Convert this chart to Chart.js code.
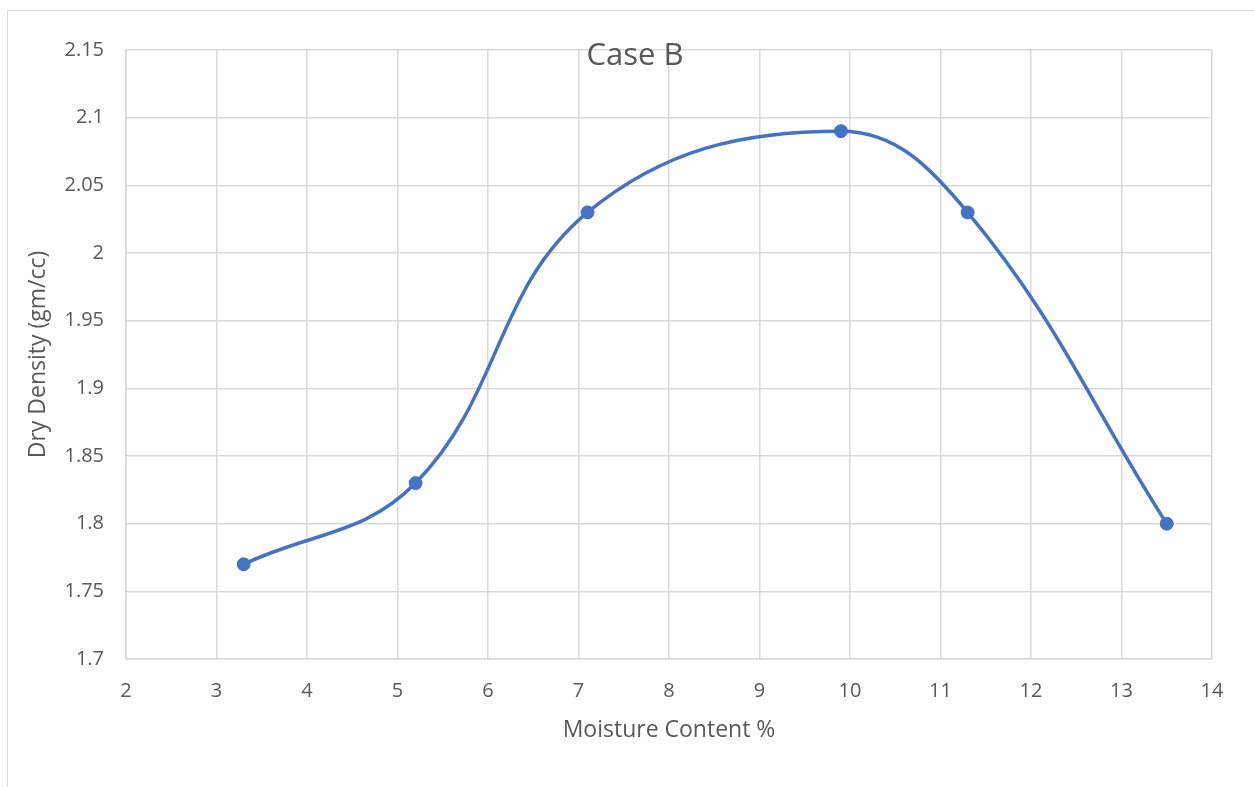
<!DOCTYPE html>
<html>
<head>
<meta charset="utf-8">
<script src="https://cdn.jsdelivr.net/npm/chart.js@4/dist/chart.umd.min.js"></script>
<style>
  html, body { margin: 0; padding: 0; background: #ffffff; overflow: hidden; }
  #frame { position: absolute; left: 7px; top: 10px; width: 1400px; height: 900px; border: 1px solid #d9d9d9; }
  #wrap { position: absolute; left: 0; top: 0; width: 1254px; height: 787px; }
</style>
</head>
<body>
<div id="frame"></div>
<div id="wrap"><canvas id="chart" width="1254" height="787"></canvas></div>
<script>
// Compaction test, Case B: moisture content (%) against dry density (gm/cc)
const moistureContent = [3.3, 5.2, 7.1, 9.9, 11.3, 13.5];
const dryDensity = [1.77, 1.83, 2.03, 2.09, 2.03, 1.80];
const xTickLabels = ['2', '3', '4', '5', '6', '7', '8', '9', '10', '11', '12', '13', '14'];
const yTickLabels = ['1.7', '1.75', '1.8', '1.85', '1.9', '1.95', '2', '2.05', '2.1', '2.15'];
const chartTitle = 'Case B';
const xAxisTitle = 'Moisture Content %';
const yAxisTitle = 'Dry Density (gm/cc)';

const textColor = '#595959';
const gridColor = '#d9d9d9';
const lineColor = '#4472c4';
const fontFamily = '"Open Sans", "Liberation Sans", sans-serif';

const points = moistureContent.map((x, i) => ({ x: x, y: dryDensity[i] }));

// Title sits over the top gridline, so it is drawn on top of the chart area
const titlePlugin = {
  id: 'overlayTitle',
  afterDraw(chart) {
    const ctx = chart.ctx;
    ctx.save();
    ctx.font = '31px ' + fontFamily;
    ctx.fillStyle = textColor;
    ctx.textAlign = 'center';
    ctx.textBaseline = 'alphabetic';
    ctx.fillText(chartTitle, 635, 65);
    ctx.restore();
  }
};

new Chart(document.getElementById('chart'), {
  type: 'scatter',
  data: {
    datasets: [{
      data: points,
      showLine: true,
      tension: 0.4,
      borderColor: lineColor,
      backgroundColor: lineColor,
      borderWidth: 3.5,
      pointRadius: 6.5,
      pointHoverRadius: 6.5,
      pointBorderWidth: 1,
      pointBorderColor: lineColor,
      pointBackgroundColor: lineColor
    }]
  },
  options: {
    responsive: false,
    animation: false,
    layout: { padding: { left: 0, top: 50, right: 42, bottom: 0 } },
    plugins: {
      legend: { display: false },
      tooltip: { enabled: false },
      title: { display: false }
    },
    scales: {
      x: {
        type: 'linear',
        min: 2,
        max: 14,
        ticks: {
          stepSize: 1,
          color: textColor,
          font: { family: fontFamily, size: 20 },
          padding: 20,
          callback: (v, i) => xTickLabels[i]
        },
        grid: { color: gridColor, lineWidth: 1.5, drawTicks: false },
        border: { color: gridColor, width: 1.5 },
        title: {
          display: true,
          text: xAxisTitle,
          color: textColor,
          font: { family: fontFamily, size: 23 },
          padding: { top: 0, bottom: 43 }
        },
        afterFit(scale) { scale.height = 128; }
      },
      y: {
        type: 'linear',
        min: 1.7,
        max: 2.15,
        ticks: {
          stepSize: 0.05,
          color: textColor,
          font: { family: fontFamily, size: 20 },
          padding: 22,
          callback: (v, i) => yTickLabels[i]
        },
        grid: { color: gridColor, lineWidth: 1.5, drawTicks: false },
        border: { color: gridColor, width: 1.5 },
        title: {
          display: true,
          text: yAxisTitle,
          color: textColor,
          font: { family: fontFamily, size: 23 },
          padding: { top: 25, bottom: 0 }
        },
        afterFit(scale) { scale.width = 126; }
      }
    }
  },
  plugins: [titlePlugin]
});
</script>
</body>
</html>
